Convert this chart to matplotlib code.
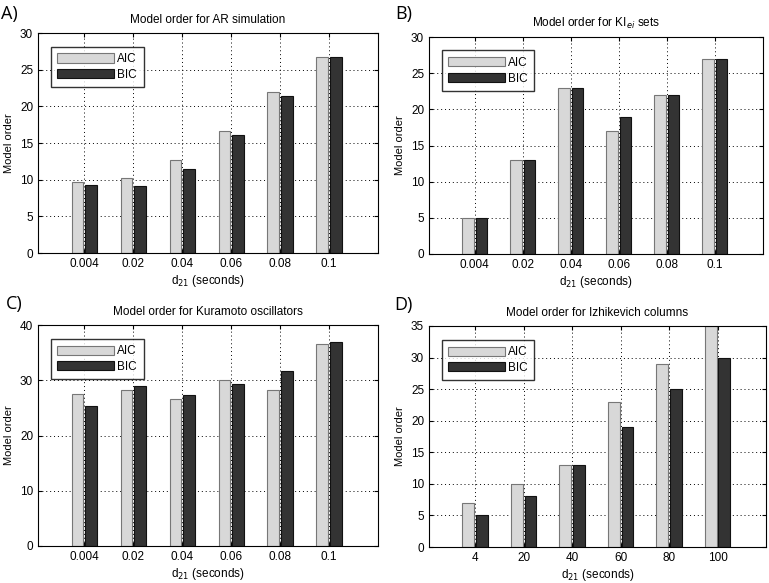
import numpy as np
import matplotlib
matplotlib.use("Agg")
import matplotlib.pyplot as plt

plt.rcParams["font.family"] = ["Liberation Sans", "DejaVu Sans"]

# --- data ---
delay_labels = ["0.004", "0.02", "0.04", "0.06", "0.08", "0.1"]
izh_labels = ["4", "20", "40", "60", "80", "100"]

ar_aic = [9.7, 10.2, 12.7, 16.7, 22.0, 26.7]
ar_bic = [9.3, 9.1, 11.4, 16.1, 21.4, 26.7]

ki_aic = [5, 13, 23, 17, 22, 27]
ki_bic = [5, 13, 23, 19, 22, 27]

kur_aic = [27.6, 28.3, 26.6, 30.0, 28.3, 36.6]
kur_bic = [25.4, 29.0, 27.4, 29.3, 31.6, 37.0]

izh_aic = [7, 10, 13, 23, 29, 35]
izh_bic = [5, 8, 13, 19, 25, 30]

W, H = 769, 583
fig = plt.figure(figsize=(W / 100, H / 100), dpi=100)


def px_axes(left, top, right, bottom):
    return fig.add_axes([left / W, 1 - bottom / H, (right - left) / W, (bottom - top) / H])


def panel(ax, aic, bic, labels, title, ymax, ystep):
    x = np.arange(1, len(labels) + 1)
    ax.set_axisbelow(True)
    ax.bar(x - 0.14, aic, width=0.24, color="#d8d8d8", edgecolor="#777777", linewidth=0.8, label="AIC")
    ax.bar(x + 0.14, bic, width=0.24, color="#333333", edgecolor="#111111", linewidth=0.8, label="BIC")
    ax.set_xlim(0.05, 7.0)
    ax.set_ylim(0, ymax)
    ax.set_xticks(x)
    ax.set_xticklabels(labels)
    ax.set_yticks(np.arange(0, ymax + 0.1, ystep))
    ax.grid(True, linestyle=(0, (1, 3)), color="black", linewidth=0.7)
    ax.tick_params(labelsize=8.5, length=3, direction="in", top=True, right=True)
    for s in ax.spines.values():
        s.set_linewidth(0.8)
    ax.set_title(title, fontsize=8.5, pad=7)
    ax.set_ylabel("Model order", fontsize=8)
    ax.set_xlabel(r"d$_{21}$ (seconds)", fontsize=8.5, labelpad=2)
    ax.legend(loc="upper left", bbox_to_anchor=(0.02, 0.965), fontsize=8.5, frameon=True,
              fancybox=False, edgecolor="black", handlelength=4.8, handleheight=0.8,
              borderpad=0.55, labelspacing=0.3, handletextpad=0.3)


axA = px_axes(38, 33, 378, 253)
panel(axA, ar_aic, ar_bic, delay_labels, "Model order for AR simulation", 30, 5)

axB = px_axes(429, 37, 763, 254)
panel(axB, ki_aic, ki_bic, delay_labels, r"Model order for KI$_{ei}$ sets", 30, 5)

axC = px_axes(38, 325, 378, 546)
panel(axC, kur_aic, kur_bic, delay_labels, "Model order for Kuramoto oscillators", 40, 10)

axD = px_axes(429, 326, 766, 547)
panel(axD, izh_aic, izh_bic, izh_labels, "Model order for Izhikevich columns", 35, 5)

for letter, px, py in [("A)", 1, 14), ("B)", 395, 14), ("C)", 6, 304), ("D)", 394, 305)]:
    fig.text(px / W, 1 - py / H, letter, fontsize=13, family="Open Sans", va="center", ha="left")

fig.savefig("out.png", dpi=100)
